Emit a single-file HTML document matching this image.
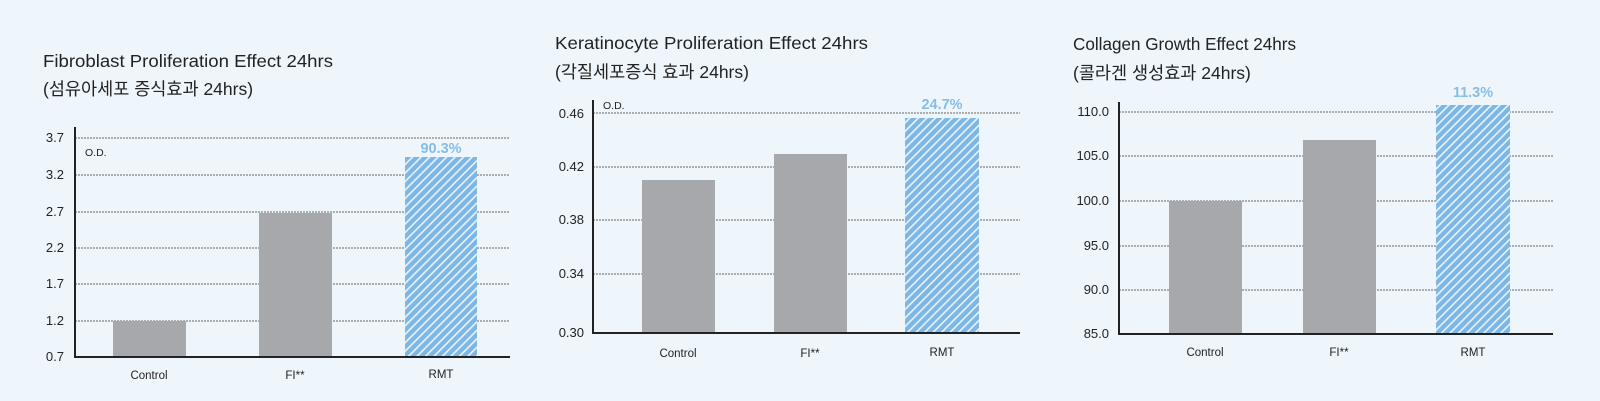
<!DOCTYPE html>
<html><head><meta charset="utf-8"><style>
html,body{margin:0;padding:0;background:#eef6fc;}
svg{display:block;font-family:"Liberation Sans","Noto Sans CJK KR",sans-serif;}
</style></head><body>
<svg width="1600" height="401" viewBox="0 0 1600 401" xmlns="http://www.w3.org/2000/svg">
<defs>
<pattern id="h" patternUnits="userSpaceOnUse" width="6" height="6" patternTransform="rotate(45)">
<rect width="6" height="6" fill="#7db7e6"/><rect x="0" y="0" width="1.6" height="6" fill="#e9f3fb"/>
</pattern>
</defs>
<rect width="1600" height="401" fill="#eef6fc"/>
<g fill="#222" font-size="17.5">
<text x="43" y="67" textLength="290" lengthAdjust="spacingAndGlyphs">Fibroblast Proliferation Effect 24hrs</text>
<text x="43" y="95">(섬유아세포 증식효과 24hrs)</text>
<text x="555" y="49" textLength="313" lengthAdjust="spacingAndGlyphs">Keratinocyte Proliferation Effect 24hrs</text>
<text x="555" y="78">(각질세포증식 효과 24hrs)</text>
<text x="1073" y="50" textLength="223" lengthAdjust="spacingAndGlyphs">Collagen Growth Effect 24hrs</text>
<text x="1073" y="79">(콜라겐 생성효과 24hrs)</text>
</g>
<g stroke="#666" stroke-width="1" stroke-dasharray="2,1">
<line x1="75" x2="510" y1="138" y2="138"/><line x1="75" x2="510" y1="175" y2="175"/><line x1="75" x2="510" y1="212" y2="212"/><line x1="75" x2="510" y1="248" y2="248"/><line x1="75" x2="510" y1="284" y2="284"/><line x1="75" x2="510" y1="321" y2="321"/>
<line x1="593" x2="1020" y1="113" y2="113"/><line x1="593" x2="1020" y1="167" y2="167"/><line x1="593" x2="1020" y1="220" y2="220"/><line x1="593" x2="1020" y1="274" y2="274"/>
<line x1="1119" x2="1553" y1="112" y2="112"/><line x1="1119" x2="1553" y1="156" y2="156"/><line x1="1119" x2="1553" y1="201" y2="201"/><line x1="1119" x2="1553" y1="246" y2="246"/><line x1="1119" x2="1553" y1="290" y2="290"/>
</g>
<g fill="#a7a8ab">
<rect x="113" y="321" width="73" height="36"/><rect x="259" y="213" width="73" height="144"/>
<rect x="642" y="180" width="73" height="153"/><rect x="774" y="154" width="73" height="179"/>
<rect x="1169" y="201" width="73" height="133"/><rect x="1303" y="140" width="73" height="194"/>
</g>
<rect x="405" y="157" width="72" height="200" fill="url(#h)"/>
<rect x="905" y="118" width="74" height="215" fill="url(#h)"/>
<rect x="1436" y="105" width="74" height="229" fill="url(#h)"/>
<g stroke="#222" stroke-width="2" fill="none">
<polyline points="75,127 75,357 510,357"/>
<polyline points="593,100 593,333 1020,333"/>
<polyline points="1119,102 1119,334 1553,334"/>
</g>
<g fill="#222" font-size="13" text-anchor="end">
<text x="64" y="142">3.7</text><text x="64" y="179">3.2</text><text x="64" y="216">2.7</text><text x="64" y="252">2.2</text><text x="64" y="288">1.7</text><text x="64" y="325">1.2</text><text x="64" y="361">0.7</text>
<text x="584" y="118">0.46</text><text x="584" y="171">0.42</text><text x="584" y="224">0.38</text><text x="584" y="278">0.34</text><text x="584" y="337">0.30</text>
<text x="1109" y="116">110.0</text><text x="1109" y="160">105.0</text><text x="1109" y="205">100.0</text><text x="1109" y="250">95.0</text><text x="1109" y="294">90.0</text><text x="1109" y="338">85.0</text>
</g>
<g fill="#222" font-size="10.5">
<text x="85" y="156">O.D.</text><text x="603" y="109">O.D.</text>
</g>
<g fill="#222" font-size="11.5" text-anchor="middle">
<text x="149" y="379">Control</text><text x="295" y="379">FI**</text><text x="441" y="378">RMT</text>
<text x="678" y="357">Control</text><text x="810" y="357">FI**</text><text x="942" y="356">RMT</text>
<text x="1205" y="356">Control</text><text x="1339" y="356">FI**</text><text x="1473" y="356">RMT</text>
</g>
<g fill="#86bde9" font-size="14.5" font-weight="bold" text-anchor="middle">
<text x="441" y="153">90.3%</text><text x="942" y="109">24.7%</text><text x="1473" y="97">11.3%</text>
</g>
</svg>
</body></html>
